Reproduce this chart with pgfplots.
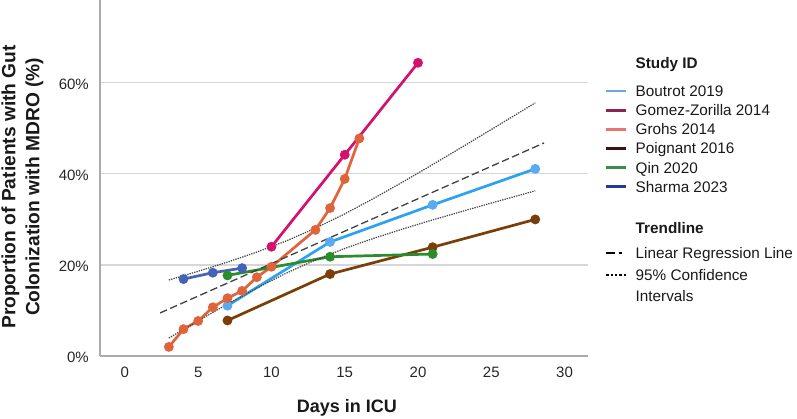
\documentclass[border=0pt]{standalone}
\usepackage{pgfplots}
\pgfplotsset{compat=1.18}
\usepackage{fontspec}
\setmainfont{Liberation Sans}
\definecolor{cBout}{HTML}{2CA2F0}
\definecolor{cBoutM}{HTML}{5AAAF0}
\definecolor{cGomez}{HTML}{D4116C}
\definecolor{cGrohs}{HTML}{E0643A}
\definecolor{cPoig}{HTML}{7A3E08}
\definecolor{cQin}{HTML}{2B8C2B}
\definecolor{cSharma}{HTML}{4563B6}
\definecolor{lBout}{HTML}{6FA6DE}
\definecolor{lGomez}{HTML}{8C2556}
\definecolor{lGrohs}{HTML}{EA7470}
\definecolor{lPoig}{HTML}{3E1012}
\definecolor{lQin}{HTML}{3C8C4C}
\definecolor{lSharma}{HTML}{1E3C98}
\definecolor{trend}{HTML}{404040}
\definecolor{axisgray}{HTML}{ABABAB}
\definecolor{gridgray}{HTML}{D6D6D6}
\begin{document}
\begin{tikzpicture}
\path[use as bounding box] (0,0) rectangle (797pt,419pt);
\begin{axis}[
  at={(100pt,63pt)}, anchor=south west,
  scale only axis, width=488pt, height=356pt,
  xmin=-1.7, xmax=31.6, ymin=0, ymax=78.2,
  clip=false,
  axis x line*=bottom, axis y line*=left,
  axis line style={draw=axisgray, line width=1.5pt, -},
  xtick={0,5,...,30}, ytick={0,20,40,60},
  major tick length=0pt,
  ymajorgrids, grid style={draw=gridgray, line width=1.2pt},
  /pgf/number format/assume math mode=true,
  tick label style={font=\fontsize{15}{18}\selectfont, text=black!85},
  xticklabel style={anchor=north, inner sep=0pt, yshift=-10.5pt},
  yticklabel style={anchor=east, inner sep=0pt, xshift=-11pt, yshift=-1pt},
  yticklabel={\pgfmathprintnumber{\tick}\%},
  xlabel={Days in ICU},
  ylabel={Proportion of Patients with Gut\\Colonization with MDRO (\%)},
  label style={font=\bfseries\fontsize{18}{24}\selectfont, text=black!90},
  xlabel style={at={(axis description cs:0.5061,-0.1584)}, anchor=base},
  ylabel style={at={(axis description cs:-0.1588,0.475)}, anchor=center, align=center,
    font=\bfseries\fontsize{19.2}{24}\selectfont},
  legend style={at={(axis description cs:1.0348,0.8497)}, anchor=north west,
    draw=none, fill=none, inner sep=0pt, outer sep=0pt,
    font=\fontsize{15.3}{18}\selectfont, text=black!90,
    nodes={inner sep=0pt, text height=15.1pt, text depth=4pt},
    column sep=8pt, row sep=0pt},
  legend cell align=left,
  legend image code/.code={\draw[#1] (0pt,0pt) -- (20pt,0pt);},
]
% Boutrot 2019
\addplot[cBout, line width=2.7pt, mark=*, mark size=3.5pt, mark options={solid, fill=cBoutM, draw=cBoutM}, forget plot]
  coordinates {(7,11.05) (14,25.05) (21,33.2) (28,41.1)};
% Gomez-Zorilla 2014
\addplot[cGomez, line width=2.7pt, mark=*, mark size=3.5pt, mark options={solid}, forget plot]
  coordinates {(10,24.0) (15,44.2) (20,64.4)};
% Grohs 2014
\addplot[cGrohs, line width=2.7pt, mark=*, mark size=3.5pt, mark options={solid}, forget plot]
  coordinates {(3,2.0) (4,5.9) (5,7.7) (6,10.7) (7,12.7) (8,14.3) (9,17.3) (10,19.6) (13,27.7) (14,32.5) (15,38.9) (16,47.8)};
% Poignant 2016
\addplot[cPoig, line width=2.7pt, mark=*, mark size=3.5pt, mark options={solid}, forget plot]
  coordinates {(7,7.8) (14,18.0) (21,23.9) (28,30.0)};
% Qin 2020
\addplot[cQin, line width=2.7pt, mark=*, mark size=3.5pt, mark options={solid}, forget plot]
  coordinates {(7,17.7) (14,21.8) (21,22.4)};
% Sharma 2023
\addplot[cSharma, line width=2.7pt, mark=*, mark size=3.5pt, mark options={solid}, forget plot]
  coordinates {(4,16.9) (6,18.3) (8,19.3)};
% Linear regression line
\addplot[trend, line width=1.3pt, dash pattern=on 7.5pt off 3.5pt, forget plot]
  coordinates {(2.4,9.46) (28.6,46.8)};
% 95% CI upper
\addplot[trend, line width=1.2pt, dash pattern=on 1.3pt off 1.1pt, forget plot]
  coordinates {(3,16.69) (5,18.61) (7,20.63) (9,22.82) (11,25.26) (13,28.06) (15,31.22) (17,34.66) (19,38.30) (21,42.05) (23,45.88) (25,49.75) (27,53.65) (28,55.60)};
% 95% CI lower
\addplot[trend, line width=1.2pt, dash pattern=on 1.3pt off 1.1pt, forget plot]
  coordinates {(3,3.95) (5,7.73) (7,11.41) (9,14.92) (11,18.18) (13,21.08) (15,23.62) (17,25.88) (19,27.94) (21,29.89) (23,31.76) (25,33.59) (27,35.39) (28,36.28)};
% Legend
\addlegendimage{empty legend}
\addlegendentry[text depth=13pt]{\textbf{Study ID}}
\addlegendimage{lBout, line width=2.7pt}
\addlegendentry{Boutrot 2019}
\addlegendimage{lGomez, line width=2.7pt}
\addlegendentry{Gomez-Zorilla 2014}
\addlegendimage{lGrohs, line width=2.7pt}
\addlegendentry{Grohs 2014}
\addlegendimage{lPoig, line width=2.7pt}
\addlegendentry{Poignant 2016}
\addlegendimage{lQin, line width=2.7pt}
\addlegendentry{Qin 2020}
\addlegendimage{lSharma, line width=2.7pt}
\addlegendentry{Sharma 2023}
\addlegendimage{empty legend}
\addlegendentry[text height=37.4pt, text depth=7.1pt]{\textbf{Trendline}}
\addlegendimage{black, line width=2.7pt, dash pattern=on 8.5pt off 4.5pt on 3pt off 20pt}
\addlegendentry[text height=17.9pt, text depth=6.9pt]{Linear Regression Line}
\addlegendimage{black, line width=2.5pt, dash pattern=on 2.5pt off 1.8pt}
\addlegendentry{95\% Confidence}
\addlegendimage{empty legend}
\addlegendentry[text height=16.9pt]{Intervals}
\end{axis}
\end{tikzpicture}
\end{document}
